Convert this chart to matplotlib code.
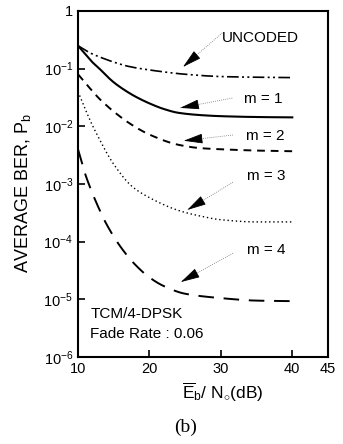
import matplotlib
matplotlib.use("Agg")
import matplotlib.pyplot as plt
import numpy as np

plt.rcParams['font.family'] = ['Liberation Sans', 'DejaVu Sans']
plt.rcParams['mathtext.fontset'] = 'custom'
plt.rcParams['mathtext.rm'] = 'Liberation Sans'
plt.rcParams['mathtext.it'] = 'Liberation Sans:italic'

# Data (Eb/No in dB, average BER)
snr_uncoded = [10, 11, 12, 13, 15, 17, 20, 25, 30, 35, 40]
ber_uncoded = [0.25, 0.21, 0.18, 0.16, 0.13, 0.11, 0.095, 0.08, 0.073, 0.071, 0.07]

snr_m1 = [10, 11, 12, 13, 14, 15, 16, 17, 18, 20, 22, 24, 27, 30, 35, 40]
ber_m1 = [0.25, 0.18, 0.13, 0.1, 0.075, 0.058, 0.047, 0.039, 0.033, 0.025, 0.02, 0.0172, 0.0157, 0.015, 0.0145, 0.0143]

snr_m2 = [10, 11, 12, 13, 14, 15, 17.6, 20, 24, 27, 30, 35, 40]
ber_m2 = [0.08, 0.057, 0.041, 0.03, 0.023, 0.018, 0.0105, 0.0072, 0.0048, 0.0042, 0.004, 0.0038, 0.0037]

snr_m3 = [10, 11, 12, 13, 14, 15, 17.6, 20, 24, 27, 30, 35, 40]
ber_m3 = [0.04, 0.02, 0.0105, 0.006, 0.0035, 0.0022, 0.0009, 0.00058, 0.00035, 0.00028, 0.00024, 0.00022, 0.00022]

snr_m4 = [10, 11, 12, 13, 14, 16, 18, 20, 22, 25, 30, 35, 40]
ber_m4 = [0.004, 0.0015, 0.0007, 0.00036, 0.0002, 8e-5, 4e-5, 2.4e-5, 1.7e-5, 1.25e-5, 1.05e-5, 9.5e-6, 9.3e-6]

x_ticks = [10, 20, 30, 40, 45]
y_ticks = [1e-6, 1e-5, 1e-4, 1e-3, 1e-2, 1e-1, 1]
y_labels = ['$10^{-6}$', '$10^{-5}$', '$10^{-4}$', '$10^{-3}$', '$10^{-2}$', '$10^{-1}$', '1']

fig = plt.figure(figsize=(3.43, 4.44), dpi=100)
ax = fig.add_axes([78/343, 1-357/444, 250/343, 346/444])


def pchip(x, y, n=300):
    """Monotone cubic interpolation in log10 space (Fritsch-Carlson)."""
    x = np.asarray(x, float)
    ly = np.log10(np.asarray(y, float))
    h = np.diff(x)
    d = np.diff(ly) / h
    m = np.zeros_like(ly)
    m[0], m[-1] = d[0], d[-1]
    for i in range(1, len(x) - 1):
        if d[i-1] * d[i] <= 0:
            m[i] = 0
        else:
            w1 = 2*h[i] + h[i-1]
            w2 = h[i] + 2*h[i-1]
            m[i] = (w1 + w2) / (w1/d[i-1] + w2/d[i])
    xs = np.linspace(x[0], x[-1], n)
    idx = np.clip(np.searchsorted(x, xs) - 1, 0, len(x) - 2)
    t = (xs - x[idx]) / h[idx]
    h00 = 2*t**3 - 3*t**2 + 1
    h10 = t**3 - 2*t**2 + t
    h01 = -2*t**3 + 3*t**2
    h11 = t**3 - t**2
    ys = h00*ly[idx] + h10*h[idx]*m[idx] + h01*ly[idx+1] + h11*h[idx]*m[idx+1]
    return xs, 10**ys

xs, ys = pchip(snr_uncoded, ber_uncoded)
ax.plot(xs, ys, color='black', lw=1.2, dashes=(7, 2, 1.2, 2, 1.2, 2))
xs, ys = pchip(snr_m1, ber_m1)
ax.plot(xs, ys, color='black', lw=1.5)
xs, ys = pchip(snr_m2, ber_m2)
ax.plot(xs, ys, color='black', lw=1.4, dashes=(4, 3))
xs, ys = pchip(snr_m3, ber_m3)
ax.plot(xs, ys, color='black', lw=1.0, dashes=(1, 2))
xs, ys = pchip(snr_m4, ber_m4)
ax.plot(xs, ys, color='black', lw=1.4, dashes=(8, 5))

ax.set_yscale('log')
ax.set_xlim(10, 45)
ax.set_ylim(1e-6, 1)
ax.set_xticks(x_ticks)
ax.set_xticklabels([str(t) for t in x_ticks])
ax.set_yticks(y_ticks)
ax.set_yticklabels(y_labels)
ax.minorticks_off()
ax.tick_params(direction='in', length=5, width=1.2, labelsize=10.5)
for s in ax.spines.values():
    s.set_linewidth(1.5)

notes = [
    ('UNCODED', (35.6, 10**-0.47), (30.2, 10**-0.38), (24.7, 10**-0.97)),
    ('m = 1', (35.9, 10**-1.53), (31.6, 10**-1.51), (24.3, 10**-1.68)),
    ('m = 2', (36.2, 10**-2.17), (31.7, 10**-2.15), (24.8, 10**-2.25)),
    ('m = 3', (36.3, 10**-2.86), (31.7, 10**-2.97), (25.3, 10**-3.45)),
    ('m = 4', (36.3, 10**-4.14), (31.7, 10**-4.20), (24.4, 10**-4.70)),
]
for txt, tpos, start, tip in notes:
    ax.text(tpos[0], tpos[1], txt, ha='center', va='center', fontsize=11)
    ax.plot([start[0], tip[0]], [start[1], tip[1]], color='0.45', lw=0.6, ls=(0, (1, 1.5)))
    f = 0.3
    hx = tip[0] + f*(start[0] - tip[0])
    hy = 10**(np.log10(tip[1]) + f*(np.log10(start[1]) - np.log10(tip[1])))
    ax.annotate('', xy=tip, xytext=(hx, hy),
                arrowprops=dict(arrowstyle='-|>,head_length=0.85,head_width=0.22',
                                color='black', lw=0.6, mutation_scale=14,
                                shrinkA=0, shrinkB=0))

ax.text(11.7, 10**-5.25, 'TCM/4-DPSK', fontsize=11, va='center', ha='left')
ax.text(11.7, 10**-5.6, 'Fade Rate : 0.06', fontsize=11, va='center', ha='left')

fig.text(23/343, 1-193/444, 'AVERAGE BER, P$_{\\mathrm{b}}$', fontsize=13, rotation=90,
         ha='center', va='center')
fig.text(223/343, 1-392/444, '$\\overline{\\mathrm{E}}_{\\mathrm{b}}$/ N$_{\\circ}$(dB)',
         fontsize=12.5, ha='center', va='center')
fig.text(186/343, 1-427/444, '(b)', fontsize=14, family='Liberation Serif', ha='center', va='center')

fig.savefig('out.png', dpi=100)
